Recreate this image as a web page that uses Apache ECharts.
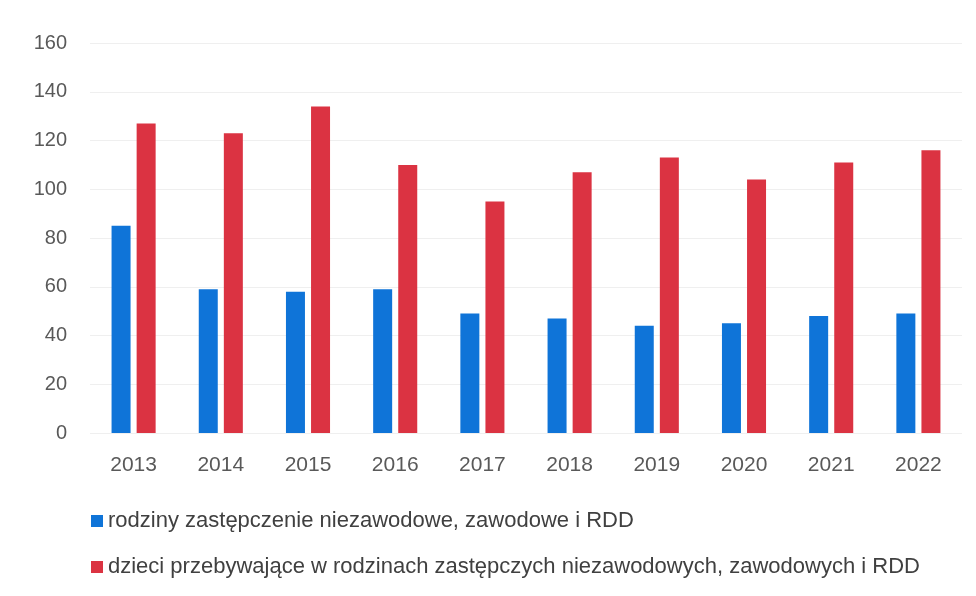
<!DOCTYPE html>
<html>
<head>
<meta charset="utf-8">
<script src="https://cdn.jsdelivr.net/npm/echarts@6/dist/echarts.min.js"></script>
<style>
html,body{margin:0;padding:0;background:#fff;}
#chart{width:976px;height:596px;}
</style>
</head>
<body>
<div id="chart"></div>
<script>
var categories = ['2013','2014','2015','2016','2017','2018','2019','2020','2021','2022'];
var seriesNames = [
  'rodziny zastępczenie niezawodowe, zawodowe i RDD',
  'dzieci przebywające w rodzinach zastępczych niezawodowych, zawodowych i RDD'
];
var familiesValues = [85, 59, 58, 59, 49, 47, 44, 45, 48, 49];
var childrenValues = [127, 123, 134, 110, 95, 107, 113, 104, 111, 116];

var chart = echarts.init(document.getElementById('chart'));
chart.setOption({
  backgroundColor: '#ffffff',
  animation: false,
  grid: { left: 90, right: 14, top: 43, bottom: 163 },
  legend: {
    orient: 'vertical',
    left: 86,
    top: 505,
    itemWidth: 12,
    itemHeight: 12,
    itemGap: 24,
    icon: 'rect',
    textStyle: { fontFamily: 'Liberation Sans', fontSize: 22, color: '#404040', lineHeight: 22 },
    data: seriesNames
  },
  xAxis: {
    type: 'category',
    data: categories,
    axisLine: { show: false },
    axisTick: { show: false },
    axisLabel: { margin: 22, fontFamily: 'Liberation Sans', fontSize: 21, color: '#595959' }
  },
  yAxis: {
    type: 'value',
    min: 0,
    max: 160,
    interval: 20,
    axisLine: { show: false },
    axisTick: { show: false },
    axisLabel: { margin: 23, fontFamily: 'Liberation Sans', fontSize: 20, color: '#595959' },
    splitLine: { lineStyle: { color: '#efefef', width: 1 } }
  },
  series: [
    {
      name: seriesNames[0],
      type: 'bar',
      data: familiesValues,
      barWidth: 19,
      barGap: '32%',
      itemStyle: { color: '#0f74d8' }
    },
    {
      name: seriesNames[1],
      type: 'bar',
      data: childrenValues,
      barWidth: 19,
      barGap: '32%',
      itemStyle: { color: '#db3342' }
    }
  ]
});
</script>
</body>
</html>
